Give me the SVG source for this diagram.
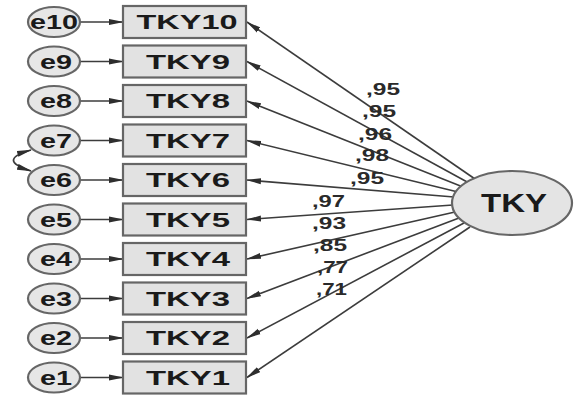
<svg xmlns="http://www.w3.org/2000/svg" width="574" height="396" viewBox="0 0 574 396">
  <style>
    .bg { fill: #ffffff; }
    .box { fill: #e2e2e2; stroke: #666; stroke-width: 2.2; }
    .err { fill: #e6e6e6; stroke: #666; stroke-width: 2.2; }
    .lat { fill: #e4e4e4; stroke: #666; stroke-width: 2.2; }
    .lbl { font-family: "Liberation Sans", Arial, sans-serif; font-weight: bold; fill: #1a1a1a; }
    .obs { font-size: 20px; text-anchor: middle; }
    .etx { font-size: 20px; text-anchor: middle; }
    .big { font-size: 25px; text-anchor: middle; }
    .coef { font-size: 16px; fill: #2a2a2a; }
    .link { stroke: #3c3c3c; stroke-width: 1.6; fill: none; marker-end: url(#head); }
    .cov { stroke: #3c3c3c; stroke-width: 1.8; fill: none; marker-start: url(#headS); marker-end: url(#head); }
  </style>
  <defs>
    <marker id="head" viewBox="0 0 15 7" refX="14" refY="3.5" markerWidth="15" markerHeight="7" markerUnits="userSpaceOnUse" orient="auto">
      <path d="M0,0.5 L15,3.5 L0,6.5 Z" fill="#2e2e2e"/>
    </marker>
    <marker id="headS" viewBox="0 0 15 7" refX="1" refY="3.5" markerWidth="15" markerHeight="7" markerUnits="userSpaceOnUse" orient="auto">
      <path d="M15,0.5 L0,3.5 L15,6.5 Z" fill="#2e2e2e"/>
    </marker>
  </defs>
  <rect class="bg" x="0" y="0" width="574" height="396"/>

  <!-- connectors -->
  <g id="connectors">
    <!-- error terms to indicators -->
    <line class="link" x1="80" y1="22" x2="123" y2="22"/>
    <line class="link" x1="80" y1="61.5" x2="123" y2="61.5"/>
    <line class="link" x1="80" y1="101" x2="123" y2="101"/>
    <line class="link" x1="80" y1="140.5" x2="123" y2="140.5"/>
    <line class="link" x1="80" y1="180" x2="123" y2="180"/>
    <line class="link" x1="80" y1="219.5" x2="123" y2="219.5"/>
    <line class="link" x1="80" y1="259" x2="123" y2="259"/>
    <line class="link" x1="80" y1="298.5" x2="123" y2="298.5"/>
    <line class="link" x1="80" y1="338" x2="123" y2="338"/>
    <line class="link" x1="80" y1="377.5" x2="123" y2="377.5"/>
    <!-- factor loadings -->
    <line class="link" x1="475" y1="179" x2="247" y2="22"/>
    <line class="link" x1="469" y1="183" x2="247" y2="61.5"/>
    <line class="link" x1="463" y1="187" x2="247" y2="101"/>
    <line class="link" x1="458" y1="192" x2="247" y2="140.5"/>
    <line class="link" x1="454" y1="197" x2="247" y2="180"/>
    <line class="link" x1="453" y1="205" x2="247" y2="219.5"/>
    <line class="link" x1="455" y1="212" x2="247" y2="259"/>
    <line class="link" x1="459" y1="218" x2="247" y2="298.5"/>
    <line class="link" x1="464" y1="223" x2="247" y2="338"/>
    <line class="link" x1="470" y1="227" x2="247" y2="377.5"/>
    <!-- e7 / e6 covariance -->
    <path class="cov" d="M31,150 Q-4,160 31,171"/>
  </g>

  <!-- loading values -->
  <g id="loadings" class="lbl coef">
    <text x="366" y="95" textLength="34" lengthAdjust="spacingAndGlyphs">,95</text>
    <text x="362" y="117" textLength="34" lengthAdjust="spacingAndGlyphs">,95</text>
    <text x="358" y="140" textLength="34" lengthAdjust="spacingAndGlyphs">,96</text>
    <text x="355" y="161" textLength="34" lengthAdjust="spacingAndGlyphs">,98</text>
    <text x="350" y="184" textLength="34" lengthAdjust="spacingAndGlyphs">,95</text>
    <text x="312" y="207" textLength="33" lengthAdjust="spacingAndGlyphs">,97</text>
    <text x="312" y="229" textLength="34" lengthAdjust="spacingAndGlyphs">,93</text>
    <text x="313" y="251" textLength="34" lengthAdjust="spacingAndGlyphs">,85</text>
    <text x="317" y="273" textLength="31" lengthAdjust="spacingAndGlyphs">,77</text>
    <text x="316" y="295" textLength="31" lengthAdjust="spacingAndGlyphs">,71</text>
  </g>

  <!-- indicators -->
  <g id="TKY10"><rect class="box" x="123" y="6" width="123" height="32"/><text class="lbl obs" x="187" y="29" textLength="101" lengthAdjust="spacingAndGlyphs">TKY10</text></g>
  <g id="TKY9"><rect class="box" x="123" y="45.5" width="123" height="32"/><text class="lbl obs" x="188" y="68.5" textLength="84" lengthAdjust="spacingAndGlyphs">TKY9</text></g>
  <g id="TKY8"><rect class="box" x="123" y="85" width="123" height="32"/><text class="lbl obs" x="188" y="108" textLength="84" lengthAdjust="spacingAndGlyphs">TKY8</text></g>
  <g id="TKY7"><rect class="box" x="123" y="124.5" width="123" height="32"/><text class="lbl obs" x="188" y="147.5" textLength="84" lengthAdjust="spacingAndGlyphs">TKY7</text></g>
  <g id="TKY6"><rect class="box" x="123" y="164" width="123" height="32"/><text class="lbl obs" x="188" y="187" textLength="84" lengthAdjust="spacingAndGlyphs">TKY6</text></g>
  <g id="TKY5"><rect class="box" x="123" y="203.5" width="123" height="32"/><text class="lbl obs" x="188" y="226.5" textLength="84" lengthAdjust="spacingAndGlyphs">TKY5</text></g>
  <g id="TKY4"><rect class="box" x="123" y="243" width="123" height="32"/><text class="lbl obs" x="188" y="266" textLength="84" lengthAdjust="spacingAndGlyphs">TKY4</text></g>
  <g id="TKY3"><rect class="box" x="123" y="282.5" width="123" height="32"/><text class="lbl obs" x="188" y="305.5" textLength="84" lengthAdjust="spacingAndGlyphs">TKY3</text></g>
  <g id="TKY2"><rect class="box" x="123" y="322" width="123" height="32"/><text class="lbl obs" x="188" y="345" textLength="84" lengthAdjust="spacingAndGlyphs">TKY2</text></g>
  <g id="TKY1"><rect class="box" x="123" y="361.5" width="123" height="32"/><text class="lbl obs" x="188" y="384.5" textLength="84" lengthAdjust="spacingAndGlyphs">TKY1</text></g>

  <!-- error terms -->
  <g id="e10"><ellipse class="err" cx="54" cy="22" rx="26" ry="15"/><text class="lbl etx" x="54" y="29" textLength="48" lengthAdjust="spacingAndGlyphs">e10</text></g>
  <g id="e9"><ellipse class="err" cx="54" cy="61.5" rx="26" ry="15"/><text class="lbl etx" x="56" y="68.5" textLength="32" lengthAdjust="spacingAndGlyphs">e9</text></g>
  <g id="e8"><ellipse class="err" cx="54" cy="101" rx="26" ry="15"/><text class="lbl etx" x="56" y="108" textLength="32" lengthAdjust="spacingAndGlyphs">e8</text></g>
  <g id="e7"><ellipse class="err" cx="54" cy="140.5" rx="26" ry="15"/><text class="lbl etx" x="56" y="147.5" textLength="32" lengthAdjust="spacingAndGlyphs">e7</text></g>
  <g id="e6"><ellipse class="err" cx="54" cy="180" rx="26" ry="15"/><text class="lbl etx" x="56" y="187" textLength="32" lengthAdjust="spacingAndGlyphs">e6</text></g>
  <g id="e5"><ellipse class="err" cx="54" cy="219.5" rx="26" ry="15"/><text class="lbl etx" x="56" y="226.5" textLength="32" lengthAdjust="spacingAndGlyphs">e5</text></g>
  <g id="e4"><ellipse class="err" cx="54" cy="259" rx="26" ry="15"/><text class="lbl etx" x="56" y="266" textLength="32" lengthAdjust="spacingAndGlyphs">e4</text></g>
  <g id="e3"><ellipse class="err" cx="54" cy="298.5" rx="26" ry="15"/><text class="lbl etx" x="56" y="305.5" textLength="32" lengthAdjust="spacingAndGlyphs">e3</text></g>
  <g id="e2"><ellipse class="err" cx="54" cy="338" rx="26" ry="15"/><text class="lbl etx" x="56" y="345" textLength="32" lengthAdjust="spacingAndGlyphs">e2</text></g>
  <g id="e1"><ellipse class="err" cx="54" cy="377.5" rx="26" ry="15"/><text class="lbl etx" x="56" y="384.5" textLength="32" lengthAdjust="spacingAndGlyphs">e1</text></g>

  <!-- latent factor -->
  <g id="TKY"><ellipse class="lat" cx="512" cy="203" rx="60" ry="32"/><text class="lbl big" x="514" y="212" textLength="66" lengthAdjust="spacingAndGlyphs">TKY</text></g>
</svg>
